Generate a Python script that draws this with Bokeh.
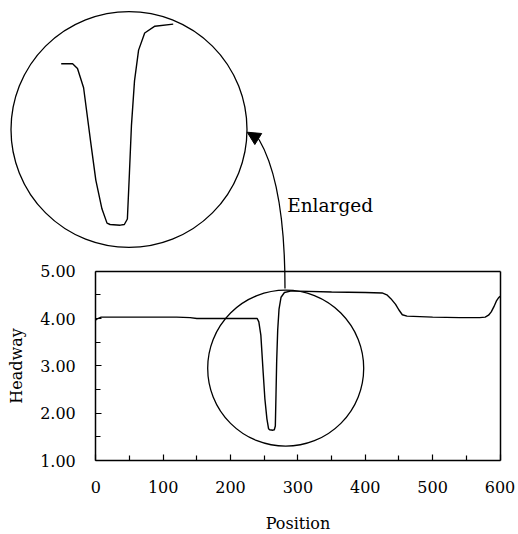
import numpy as np
from bokeh.plotting import figure
from bokeh.models import (Range1d, LinearAxis, FixedTicker, Label, Arrow,
                          NormalHead)
from bokeh.embed import file_html
from bokeh.resources import INLINE

# ---------------- data ----------------
position = [0, 3, 8, 60, 120, 140, 150, 200, 234, 239.6,
            242, 245, 248.5, 251, 254, 256.5, 258, 263, 265, 266.5,
            267.5, 268.5, 270, 272, 275, 280, 289, 300, 350, 400,
            425, 432, 438, 445, 450, 455, 462, 500, 540, 570,
            578, 583, 587, 591, 595, 598, 600]
headway = [3.97, 4.00, 4.03, 4.03, 4.03, 4.02, 4.00, 4.00, 4.00, 4.00,
           3.93, 3.65, 2.85, 2.30, 1.88, 1.67, 1.65, 1.64, 1.65, 1.73,
           2.40, 3.10, 3.75, 4.20, 4.45, 4.55, 4.58, 4.58, 4.56, 4.55,
           4.54, 4.50, 4.42, 4.30, 4.18, 4.08, 4.05, 4.03, 4.02, 4.02,
           4.03, 4.07, 4.14, 4.25, 4.38, 4.44, 4.47]

x_ticks = [0, 100, 200, 300, 400, 500, 600]
x_minor_ticks = [50, 150, 250, 350, 450, 550]
y_ticks = [1, 2, 3, 4, 5]
y_minor_ticks = [1.5, 2.5, 3.5, 4.5]
y_tick_labels = ["1.00", "2.00", "3.00", "4.00", "5.00"]
x_label = "Position"
y_label = "Headway"
note_text = "Enlarged"
inset_x_window = [234, 289]      # part of the series that is enlarged
inset_y_window = [1.65, 4.0]

# ---------------- layout (page pixels) ----------------
W, H = 518, 534
OX, OY = 0, 0              # page position of the canvas
FX0, FX1 = 95.3, 499.5     # page x of position 0 and 600
FY1, FY5 = 460.0, 270.7    # page y of headway 1 and 5
sx = (FX1 - FX0) / 600.0
sy = (FY1 - FY5) / 4.0


def px2x(px):
    return (px - FX0) / sx


def py2y(py):
    return 1.0 + (FY1 - py) / sy


FONT = "DejaVu Serif"

p = figure(width=W, height=H,
           x_range=Range1d(px2x(OX), px2x(OX + W)),
           y_range=Range1d(py2y(OY + H), py2y(OY)),
           x_axis_type=None, y_axis_type=None,
           toolbar_location=None, output_backend="svg", min_border=0)
p.outline_line_color = None
p.background_fill_color = "white"
p.border_fill_color = "white"


def style_axis(ax):
    ax.major_label_text_font = FONT
    ax.major_label_text_font_size = "16px"
    ax.major_label_text_color = "black"
    ax.axis_label_text_font = FONT
    ax.axis_label_text_font_size = "16px"
    ax.axis_label_text_font_style = "normal"
    ax.axis_label_text_color = "black"
    ax.axis_line_color = "black"
    ax.axis_line_width = 1.5
    ax.major_tick_in = 6
    ax.major_tick_out = 0
    ax.minor_tick_in = 5
    ax.minor_tick_out = 0
    ax.major_tick_line_color = "black"
    ax.minor_tick_line_color = "black"
    ax.major_tick_line_width = 1.2
    ax.minor_tick_line_width = 1.2


yaxis = LinearAxis(fixed_location=0, bounds=(1, 5),
                   ticker=FixedTicker(ticks=y_ticks, minor_ticks=y_minor_ticks),
                   major_label_overrides={t: s for t, s in zip(y_ticks, y_tick_labels)},
                   axis_label=y_label)
style_axis(yaxis)
yaxis.major_label_standoff = 20
yaxis.axis_label_standoff = 11
p.add_layout(yaxis, "left")

xaxis = LinearAxis(fixed_location=1, bounds=(0, 600),
                   ticker=FixedTicker(ticks=x_ticks, minor_ticks=x_minor_ticks),
                   axis_label=x_label)
style_axis(xaxis)
xaxis.major_label_standoff = 20
xaxis.axis_label_standoff = 18
p.add_layout(xaxis, "below")

# top and right edges of the box
topaxis = LinearAxis(fixed_location=5, bounds=(0, 600), ticker=FixedTicker(ticks=[]))
style_axis(topaxis)
topaxis.major_label_text_color = None
p.add_layout(topaxis, "above")
rightaxis = LinearAxis(fixed_location=600, bounds=(1, 5), ticker=FixedTicker(ticks=[]))
style_axis(rightaxis)
rightaxis.major_label_text_color = None
p.add_layout(rightaxis, "right")

# main series
p.line(position, headway, line_color="black", line_width=1.4)

# small circle around the dip
p.scatter(x=[px2x(285.2)], y=[py2y(367.7)], size=156, marker="circle",
          fill_color=None, line_color="black", line_width=1.3)

# big circle with the enlarged view
p.scatter(x=[px2x(128.5)], y=[py2y(129.0)], size=236, marker="circle",
          fill_color=None, line_color="black", line_width=1.3)

pos = np.array(position)
hw = np.array(headway)
mask = (pos >= inset_x_window[0]) & (pos <= inset_x_window[1])
inset = p.subplot(x_source=Range1d(*inset_x_window),
                  y_source=Range1d(*inset_y_window),
                  x_target=Range1d(px2x(60.7), px2x(172.7)),
                  y_target=Range1d(py2y(224.0), py2y(63.3)))
inset.line(x=pos[mask], y=hw[mask], line_color="black", line_width=1.4)

# curved arrow
p.quadratic(x0=[px2x(284.5)], y0=[py2y(288.0)], x1=[px2x(258.5)], y1=[py2y(139.0)],
            cx=[px2x(284.5)], cy=[py2y(183.6)], line_color="black", line_width=1.3)
p.add_layout(Arrow(end=NormalHead(size=13, fill_color="black", line_color="black",
                                  line_width=1),
                   x_start=px2x(258.5), y_start=py2y(139.0),
                   x_end=px2x(246.7), y_end=py2y(131.7),
                   line_color="black", line_width=1.3))

p.add_layout(Label(x=px2x(286.7), y=py2y(205.0), text=note_text,
                   text_font=FONT, text_font_size="18.5px", text_color="black",
                   text_align="left", text_baseline="alphabetic"))

open("out.html", "w").write(file_html(p, INLINE))
